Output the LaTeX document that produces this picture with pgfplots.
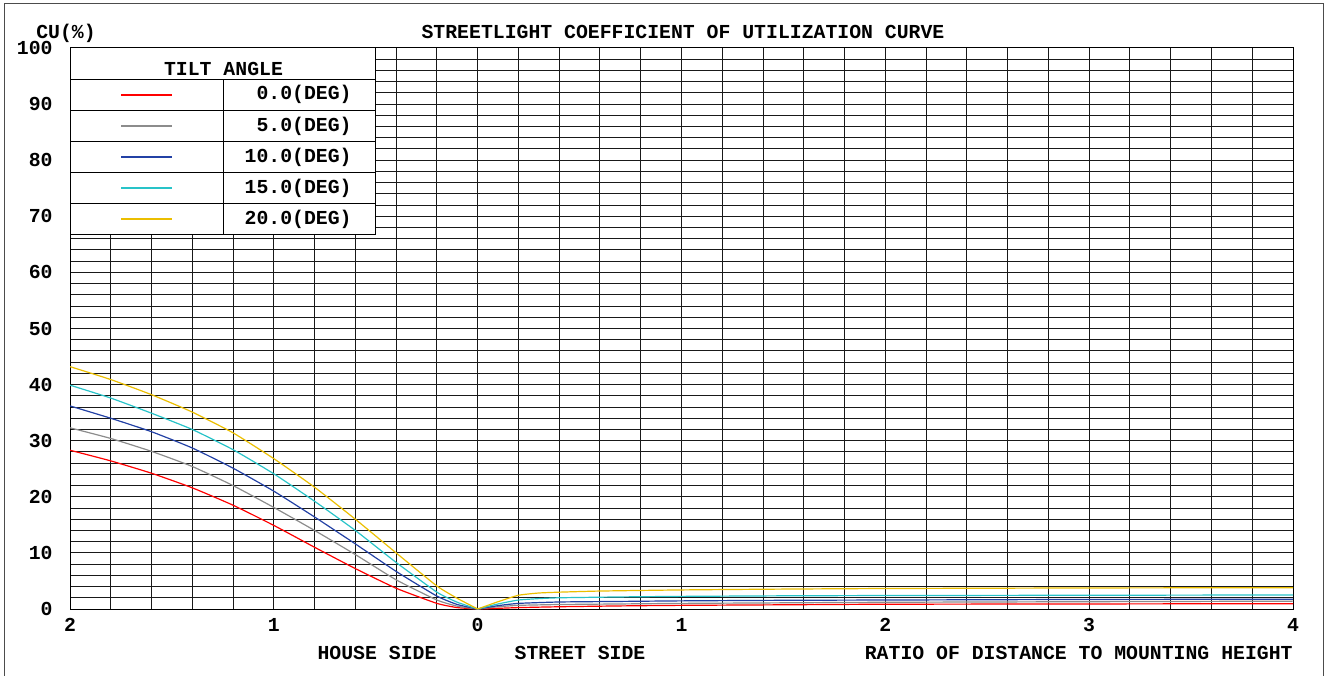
\documentclass[border=0pt]{standalone}
\usepackage{fontspec}
\setmainfont{Liberation Mono}
\usepackage{pgfplots}
\pgfplotsset{compat=1.18}
\newcommand\lf{\fontsize{9.9}{11}\selectfont\bfseries}
\definecolor{cRed}{RGB}{255,0,0}
\definecolor{cGray}{RGB}{140,140,140}
\definecolor{cBlue}{RGB}{35,65,165}
\definecolor{cCyan}{RGB}{40,195,200}
\definecolor{cYel}{RGB}{235,190,0}
\begin{document}
\begin{tikzpicture}
\useasboundingbox (0,0) rectangle (664pt,337.5pt);
\begin{axis}[
  at={(35pt,33pt)}, anchor=south west,
  scale only axis, width=611.5pt, height=280.5pt,
  xmin=-2, xmax=4, ymin=0, ymax=100,
  xtick={-2,-1,0,1,2,3,4}, xticklabels={2,1,0,1,2,3,4},
  minor xtick={-1.8,-1.6,-1.4,-1.2,-0.8,-0.6,-0.4,-0.2,0.2,0.4,0.6,0.8,1.2,1.4,1.6,1.8,2.2,2.4,2.6,2.8,3.2,3.4,3.6,3.8},
  ytick={0,10,...,100}, yticklabels={0,10,20,30,40,50,60,70,80,90,100},
  minor ytick={2,4,6,8,12,14,16,18,22,24,26,28,32,34,36,38,42,44,46,48,52,54,56,58,62,64,66,68,72,74,76,78,82,84,86,88,92,94,96,98},
  grid=both,
  major grid style={black!90, line width=0.5pt},
  minor grid style={black!90, line width=0.5pt},
  major tick length=0pt, minor tick length=0pt,
  axis line style={black, line width=0.5pt},
  tick label style={font=\lf},
  /pgf/number format/assume math mode=true,
  xticklabel style={anchor=center, inner sep=0pt, yshift=-8pt},
  yticklabel style={anchor=east, inner sep=0pt, xshift=-8.5pt},
  every axis plot/.append style={line width=0.6pt},
]
% 0.0 deg
\addplot[cRed, smooth, tension=0.3] coordinates {(-2,28.3) (-1.8,26.4) (-1.6,24.2) (-1.4,21.6) (-1.2,18.5) (-1,14.9) (-0.8,11.0) (-0.6,7.2) (-0.4,3.7) (-0.2,1.0) (-0.1,0.25) (0,0)};
\addplot[cRed, smooth, tension=0.3] coordinates {(0,0) (0.1,0.12) (0.2,0.25) (0.4,0.4) (0.7,0.55) (1,0.65) (1.5,0.75) (2,0.85) (3,0.9) (4,0.95)};
% 5.0 deg
\addplot[cGray, smooth, tension=0.3] coordinates {(-2,32.3) (-1.8,30.4) (-1.6,28.1) (-1.4,25.4) (-1.2,22.0) (-1,18.1) (-0.8,14.0) (-0.6,9.7) (-0.4,5.2) (-0.2,1.6) (-0.1,0.5) (0,0)};
\addplot[cGray, smooth, tension=0.3] coordinates {(0,0) (0.1,0.4) (0.2,0.65) (0.4,0.8) (0.7,0.9) (1,1.0) (1.5,1.1) (2,1.2) (3,1.3) (4,1.4)};
% 10.0 deg
\addplot[cBlue, smooth, tension=0.3] coordinates {(-2,36.2) (-1.8,34.0) (-1.6,31.6) (-1.4,28.7) (-1.2,25.1) (-1,21.0) (-0.8,16.4) (-0.6,11.6) (-0.4,6.7) (-0.2,2.3) (-0.1,0.8) (0,0)};
\addplot[cBlue, smooth, tension=0.3] coordinates {(0,0) (0.1,0.6) (0.2,1.0) (0.4,1.25) (0.7,1.35) (1,1.45) (1.5,1.55) (2,1.6) (3,1.7) (4,1.75)};
% 15.0 deg
\addplot[cCyan, smooth, tension=0.3] coordinates {(-2,39.9) (-1.8,37.6) (-1.6,34.9) (-1.4,32.0) (-1.2,28.4) (-1,24.1) (-0.8,19.2) (-0.6,14.0) (-0.4,8.3) (-0.2,3.0) (-0.1,1.2) (0,0)};
\addplot[cCyan, smooth, tension=0.3] coordinates {(0,0) (0.1,0.9) (0.2,1.6) (0.3,1.85) (0.4,2.0) (0.7,2.15) (1,2.25) (1.5,2.35) (2,2.4) (3,2.45) (4,2.5)};
% 20.0 deg
\addplot[cYel, smooth, tension=0.3] coordinates {(-2,43.2) (-1.8,40.9) (-1.6,38.2) (-1.4,35.1) (-1.2,31.4) (-1,26.8) (-0.8,21.7) (-0.6,16.0) (-0.4,10.0) (-0.2,4.1) (-0.1,1.9) (0,0)};
\addplot[cYel, smooth, tension=0.3] coordinates {(0,0) (0.1,1.3) (0.2,2.45) (0.3,2.85) (0.4,3.0) (0.6,3.2) (1,3.4) (1.5,3.55) (2,3.65) (3,3.75) (4,3.8)};
\end{axis}
\begin{scope}[x=0.5pt,y=-0.5pt,shift={(0pt,337.5pt)}]
\draw[black!70, line width=0.5pt] (4,690) -- (4,3.5) -- (1323,3.5) -- (1323,690);
\node[font=\lf] at (683,31.5) {STREETLIGHT COEFFICIENT OF UTILIZATION CURVE};
\node[font=\lf] at (66,33) {CU(\%)};
\node[font=\lf] at (377,653) {HOUSE SIDE};
\node[font=\lf] at (580,653) {STREET SIDE};
\node[font=\lf, anchor=east, inner sep=0pt] at (1293,653) {RATIO OF DISTANCE TO MOUNTING HEIGHT};
% legend table
\filldraw[fill=white, draw=black, line width=0.5pt] (70,48) rectangle (375.5,235);
\foreach \yy in {79.3,110.3,141.7,172.7,204} \draw[black, line width=0.5pt] (70,\yy) -- (375.5,\yy);
\draw[black, line width=0.5pt] (223,79.3) -- (223,235);
\node[font=\lf] at (223.5,68.5) {TILT ANGLE};
\draw[cRed, line width=0.9pt] (121,95) -- (172,95);
\node[font=\lf, anchor=east, inner sep=0pt] at (352,94.8) {0.0(DEG)};
\draw[cGray, line width=0.9pt] (121,126) -- (172,126);
\node[font=\lf, anchor=east, inner sep=0pt] at (352,126) {5.0(DEG)};
\draw[cBlue, line width=0.9pt] (121,157) -- (172,157);
\node[font=\lf, anchor=east, inner sep=0pt] at (352,157.2) {10.0(DEG)};
\draw[cCyan, line width=0.9pt] (121,188) -- (172,188);
\node[font=\lf, anchor=east, inner sep=0pt] at (352,188.4) {15.0(DEG)};
\draw[cYel, line width=0.9pt] (121,219) -- (172,219);
\node[font=\lf, anchor=east, inner sep=0pt] at (352,219.5) {20.0(DEG)};
\end{scope}
\end{tikzpicture}
\end{document}
